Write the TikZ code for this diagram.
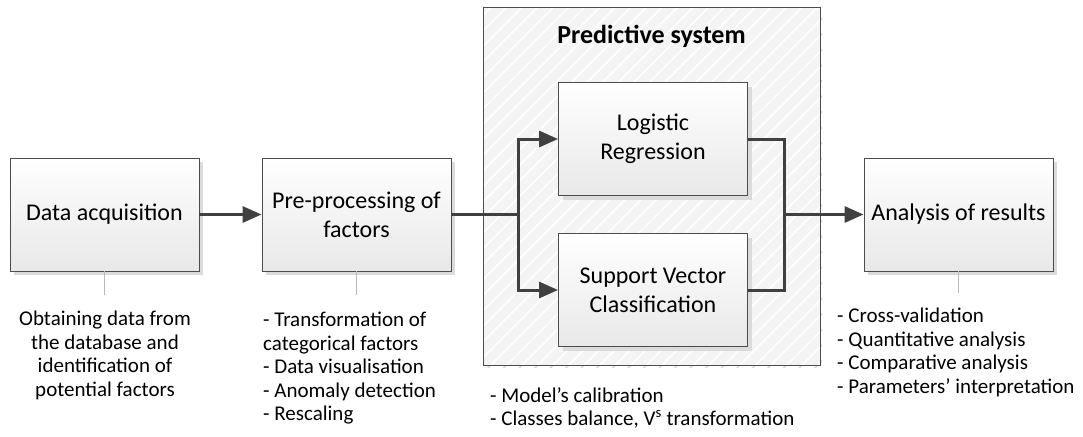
\documentclass[tikz,border=0pt]{standalone}
\usepackage{fontspec}
\setmainfont{Carlito}
\usetikzlibrary{arrows.meta,shadows,patterns.meta}

\tikzset{
  box/.style={draw=gray!60!black, line width=0.9pt, top color=white, bottom color=gray!18,
    minimum width=189pt, minimum height=113pt, align=center,
    font=\fontsize{24}{29}\selectfont,
    drop shadow={shadow xshift=4pt, shadow yshift=-4pt, fill=gray!28, opacity=1}},
  sysframe/.style={draw=gray!60!black, line width=0.9pt, minimum width=337pt, minimum height=358pt,
    preaction={fill=gray!9},
    pattern={Lines[angle=45,distance=11pt,line width=1.5pt]}, pattern color=white},
  note/.style={align=left, inner sep=0pt, font=\fontsize{21}{23.5}\selectfont},
  link/.style={line width=3pt, draw=black!75},
  flow/.style={link, -{Triangle[length=19pt,width=16pt]}},
  stem/.style={line width=1.6pt, draw=gray!55}
}

\begin{document}
\begin{tikzpicture}[x=1pt,y=-1pt]
\useasboundingbox (0,0) rectangle (1083,436);

% Predictive system frame
\path[pattern={Lines[angle=45,distance=11pt,line width=1.5pt]}, pattern color=gray!30]
  (485,9) rectangle (822,367);
\node[sysframe] (sys) at (651.5,186) {};
\node[font=\fontsize{26}{30}\selectfont\bfseries] (title) at (651.5,36) {Predictive system};

% Boxes
\node[box] (acq) at (104.5,214.5) {Data acquisition};
\node[box] (prep) at (356.5,214.5) {Pre-processing of\\factors};
\node[box] (logit) at (653,139) {Logistic\\Regression};
\node[box] (svc) at (653,290) {Support Vector\\Classification};
\node[box] (res) at (958.5,214.5) {Analysis of results};

% Split and merge points
\coordinate (split) at (518,214.5);
\coordinate (merge) at (784,214.5);

% Connectors
\draw[flow] (acq) -- (prep);
\draw[link] (prep.east) -- (split);
\draw[flow] (split) |- (logit.west);
\draw[flow] (split) |- (svc.west);
\draw[link] (logit.east) -| (merge);
\draw[link] (svc.east) -| (merge);
\draw[flow] (merge) -- (res.west);

% Stems to the notes
\draw[stem] (acq.south) -- ++(0,24) coordinate (acqend);
\draw[stem] (prep.south) -- ++(0,24) coordinate (prepend);
\draw[stem] (res.south) -- ++(0,22) coordinate (resend);

% Notes
\node[note, align=center, anchor=north] (acqnote) at (105,311)
  {Obtaining data from\\the database and\\identification of\\potential factors};
\node[note, anchor=north west] (prepnote) at (263,312)
  {- Transformation of\\categorical factors\\- Data visualisation\\- Anomaly detection\\- Rescaling};
\node[note, anchor=north west] (sysnote) at (490,387)
  {- Model’s calibration\\- Classes balance, V\textsuperscript{s} transformation};
\node[note, anchor=north west] (resnote) at (837,308)
  {- Cross-validation\\- Quantitative analysis\\- Comparative analysis\\- Parameters’ interpretation};

\end{tikzpicture}
\end{document}
